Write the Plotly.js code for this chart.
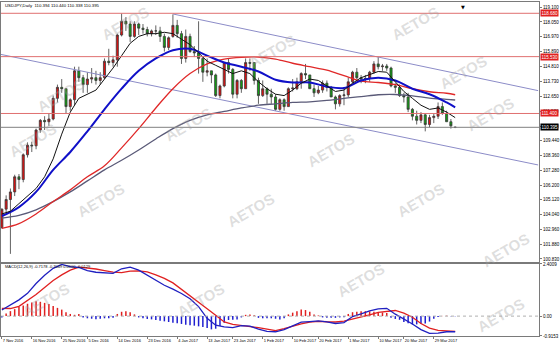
<!DOCTYPE html>
<html><head><meta charset="utf-8">
<script src="https://cdn.plot.ly/plotly-3.0.1.min.js"></script>
<style>html,body{margin:0;padding:0;background:#fff;}#chart{width:560px;height:348px;}</style>
</head><body><div id="chart"></div>
<script>
const dates = ['2016-11-07','2016-11-08','2016-11-09','2016-11-10','2016-11-11','2016-11-14','2016-11-15','2016-11-16','2016-11-17','2016-11-18','2016-11-21','2016-11-22','2016-11-23','2016-11-24','2016-11-25','2016-11-28','2016-11-29','2016-11-30',
'2016-12-01','2016-12-02','2016-12-05','2016-12-06','2016-12-07','2016-12-08','2016-12-09','2016-12-12','2016-12-13','2016-12-14','2016-12-15','2016-12-16','2016-12-19','2016-12-20','2016-12-21','2016-12-22','2016-12-23','2016-12-26','2016-12-27','2016-12-28','2016-12-29','2016-12-30',
'2017-01-03','2017-01-04','2017-01-05','2017-01-06','2017-01-09','2017-01-10','2017-01-11','2017-01-12','2017-01-13','2017-01-16','2017-01-17','2017-01-18','2017-01-19','2017-01-20','2017-01-23','2017-01-24','2017-01-25','2017-01-26','2017-01-27','2017-01-30','2017-01-31',
'2017-02-01','2017-02-02','2017-02-03','2017-02-06','2017-02-07','2017-02-08','2017-02-09','2017-02-10','2017-02-13','2017-02-14','2017-02-15','2017-02-16','2017-02-17','2017-02-20','2017-02-21','2017-02-22','2017-02-23','2017-02-24','2017-02-27','2017-02-28',
'2017-03-01','2017-03-02','2017-03-03','2017-03-06','2017-03-07','2017-03-08','2017-03-09','2017-03-10','2017-03-13','2017-03-14','2017-03-15','2017-03-16','2017-03-17','2017-03-20','2017-03-21','2017-03-22','2017-03-23','2017-03-24','2017-03-27','2017-03-28','2017-03-29','2017-03-30','2017-03-31',
'2017-04-03','2017-04-04','2017-04-05'];

const openP  = [103.10,104.45,105.15,105.70,106.80,106.60,108.40,109.10,109.05,110.20,110.90,110.80,111.00,112.50,113.30,113.20,111.90,112.40,114.50,114.00,113.50,113.90,114.00,113.80,114.00,115.20,115.10,115.30,117.10,118.10,117.90,117.00,117.90,117.60,117.50,117.20,117.40,117.40,117.00,116.20,117.00,117.80,117.20,115.40,117.00,115.90,115.80,115.40,114.40,114.50,114.20,112.70,113.40,115.10,114.60,112.80,113.80,113.20,115.10,115.10,113.80,112.70,113.20,112.80,112.60,111.70,112.40,111.90,113.20,113.20,113.70,114.30,114.20,113.20,112.90,113.10,113.60,113.30,112.60,112.10,112.70,112.75,113.70,114.40,114.00,113.90,113.95,114.40,115.00,114.80,114.85,114.70,113.40,113.30,112.70,112.60,111.70,111.20,110.90,111.30,110.60,111.10,111.20,111.90,111.40,110.80,110.394];
const highP  = [104.50,105.45,105.95,106.95,107.00,108.50,109.30,109.35,110.30,111.00,111.20,111.40,112.70,113.50,113.90,113.20,112.50,114.80,114.80,114.20,114.40,114.70,114.50,114.40,115.40,116.10,115.60,117.20,118.66,118.40,118.10,118.10,118.00,117.90,117.70,117.50,117.80,117.70,117.20,117.00,118.60,118.20,117.40,117.50,117.20,116.30,118.10,115.50,115.40,114.50,114.30,113.50,115.10,115.40,114.70,113.90,113.90,115.40,115.40,115.10,114.00,113.80,113.30,113.20,112.80,112.50,112.50,113.30,113.90,114.00,114.40,115.00,114.20,113.50,113.40,113.80,113.80,113.40,112.70,112.80,113.30,114.00,114.50,114.70,114.20,114.20,114.50,115.20,115.50,115.00,115.00,114.80,113.60,113.50,112.90,112.90,111.80,111.60,111.50,111.40,111.30,111.40,112.20,112.20,111.60,111.00,110.440];
const lowP   = [103.05,104.20,101.20,105.40,105.90,106.40,108.20,108.60,108.80,110.00,110.20,110.50,110.90,112.20,112.90,111.40,111.60,112.00,113.70,112.90,112.90,113.60,113.50,113.50,113.90,114.90,114.80,114.80,117.00,117.40,116.60,116.90,117.10,117.20,117.00,117.00,117.10,116.60,115.90,116.00,116.90,116.90,115.00,115.10,115.80,115.50,114.30,113.70,114.10,113.60,112.60,112.50,113.30,114.30,112.50,112.50,112.90,113.20,114.50,113.50,112.10,112.60,112.10,112.10,111.60,111.60,111.60,111.90,113.00,113.10,113.20,113.90,113.20,112.60,112.80,112.90,113.00,112.60,111.70,111.90,112.00,112.60,113.60,113.90,113.60,113.60,113.70,114.30,114.60,114.50,114.50,113.30,112.90,112.60,112.20,111.50,110.90,110.60,110.70,110.10,110.40,110.70,111.00,111.30,110.80,110.30,110.338];
const closeP = [104.45,105.15,105.70,106.80,106.60,108.40,109.10,109.05,110.20,110.90,110.80,111.00,112.50,113.30,113.20,111.90,112.40,114.50,114.00,113.50,113.90,114.00,113.80,114.00,115.20,115.10,115.30,117.10,118.10,117.90,117.00,117.90,117.60,117.50,117.20,117.40,117.40,117.00,116.20,116.90,117.80,117.20,115.40,117.00,115.90,115.80,115.40,114.40,114.50,114.20,112.70,113.40,115.10,114.60,112.80,113.80,113.20,115.10,115.05,113.80,112.70,113.20,112.80,112.60,111.70,112.40,111.90,113.20,113.25,113.70,114.30,114.20,113.20,112.90,113.10,113.60,113.30,112.60,112.10,112.70,112.75,113.70,114.40,114.00,113.90,113.95,114.40,115.00,114.80,114.85,114.70,113.40,113.30,112.70,112.60,111.70,111.20,110.90,111.30,110.60,111.10,111.20,111.90,111.40,110.80,110.50,110.395];

const ma2Idx = [0,2,4,6,8,10,12,14,16,18,20,22,24,26,28,30,32,34,36,38,40,42,44,46,48,50,52,54,56,58,60,62,64,66,68,70,72,74,76,78,80,82,84,86,88,90,92,94,96,98,100,102,104,106];
const maBlack = [104.1,104.3,104.85,105.4,105.95,106.8,108.1,109.9,111.5,112.5,112.8,113.1,113.9,114.7,115.6,116.5,117.0,117.2,117.2,117.3,117.2,116.8,116.4,115.8,115.2,114.9,114.6,114.3,114.5,114.3,113.7,113.2,112.8,112.7,113.1,113.6,113.9,113.8,113.4,113.0,113.1,113.6,114.0,114.2,114.45,114.4,113.7,113.0,112.5,112.0,111.7,111.8,111.5,111.1];
const ma4Idx = [0,4,8,12,16,20,24,28,32,36,40,44,48,52,56,60,64,68,72,76,80,84,88,92,96,100,104,106];
const maBlue = [103.95,104.6,105.7,107.3,108.6,110.1,111.7,113.2,114.5,115.4,116.0,116.1,115.6,115.1,114.8,114.45,113.85,113.65,113.65,113.35,113.25,113.8,114.0,113.8,113.2,112.8,112.2,111.85];
const maRed  = [103.05,103.4,104.1,105.0,105.85,106.8,107.6,108.9,110.3,111.8,113.2,114.3,115.0,115.35,115.48,115.5,115.35,115.05,114.8,114.55,114.15,113.75,113.65,113.5,113.2,112.98,112.87,112.76];
const maGray = [103.8,104.0,104.4,105.0,105.7,106.5,107.3,108.0,108.75,109.55,110.3,110.9,111.3,111.55,111.8,112.0,112.1,112.2,112.25,112.35,112.5,112.62,112.76,112.78,112.68,112.52,112.43,112.38];

const macdMain   = [0.28,0.5,0.75,1.05,1.5,1.88,2.2,2.38,2.28,2.24,2.1,2.02,2.0,1.97,2.18,2.26,2.12,1.9,1.66,1.42,1.24,1.04,0.8,0.44,-0.1,-0.42,-0.5,-0.53,-0.44,-0.46,-0.6,-0.7,-0.72,-0.62,-0.45,-0.28,-0.25,-0.22,-0.26,-0.34,-0.3,-0.02,0.1,0.24,0.33,0.36,0.09,-0.12,-0.36,-0.62,-0.79,-0.78,-0.72,-0.72];
const macdSignal = [0.36,0.35,0.45,0.72,1.0,1.32,1.64,1.9,2.12,2.26,2.23,2.17,2.1,2.03,2.0,2.07,2.08,2.04,1.9,1.74,1.53,1.24,0.96,0.64,0.34,0.04,-0.27,-0.38,-0.42,-0.46,-0.53,-0.6,-0.67,-0.58,-0.46,-0.36,-0.28,-0.24,-0.26,-0.27,-0.23,-0.14,-0.05,0.06,0.17,0.23,0.26,0.14,-0.05,-0.34,-0.55,-0.66,-0.69,-0.70];
const macdHist = [-0.06,0.12,0.23,0.32,0.42,0.49,0.57,0.63,0.69,0.66,0.61,0.56,0.47,0.38,0.3,0.18,0.1,0.06,0.1,-0.06,-0.1,-0.12,-0.14,-0.12,-0.1,-0.1,-0.08,0.1,0.2,0.23,0.18,0.08,-0.06,-0.1,-0.13,-0.15,-0.18,-0.21,-0.24,-0.27,-0.3,-0.33,-0.36,-0.4,-0.42,-0.44,-0.47,-0.5,-0.55,-0.61,-0.58,-0.45,-0.3,-0.18,-0.17,-0.15,-0.06,0.06,0.08,0.04,-0.08,-0.1,-0.1,-0.1,-0.12,-0.15,-0.1,0.08,0.16,0.23,0.3,0.28,0.2,0.08,0.03,-0.06,-0.08,-0.08,-0.08,-0.06,-0.05,0.1,0.18,0.2,0.22,0.23,0.22,0.2,0.19,0.17,0.14,-0.08,-0.13,-0.17,-0.27,-0.33,-0.38,-0.38,-0.36,-0.34,-0.25,-0.12,-0.04,0.01,0.02,-0.01,-0.01];

const priceTicks = [119.100,118.050,116.970,115.890,114.810,113.730,112.650,111.570,110.490,109.440,108.360,107.280,106.200,105.120,104.040,102.960,101.880,100.830];
const macdTicks = [2.4009,0,-0.9153];
const macdTickText = ['2.4009','0.00','-0.9153'];
const dateTickDates = ['2016-11-07','2016-11-16','2016-11-25','2016-12-05','2016-12-14','2016-12-23','2017-01-04','2017-01-13','2017-01-23','2017-02-01','2017-02-10','2017-02-20','2017-03-01','2017-03-10','2017-03-20','2017-03-29'];
const dateTickText = ['7 Nov 2016','16 Nov 2016','25 Nov 2016','5 Dec 2016','14 Dec 2016','23 Dec 2016','4 Jan 2017','13 Jan 2017','23 Jan 2017','1 Feb 2017','10 Feb 2017','20 Feb 2017','1 Mar 2017','10 Mar 2017','20 Mar 2017','29 Mar 2017'];
const levelPrices = [118.680,115.530,111.400];
const levelText = ['118.680','115.530','111.400'];
const currentPrice = 110.395;
const channelUpperX = [40,125.4];
const channelUpperY = [118.63,113.06];
const channelLowerX = [-0.2,125.4];
const channelLowerY = [115.69,107.66];

const FONT = 'Liberation Sans, Arial, sans-serif';
const xr = [-0.2,125.6];
const idx = dates.map((d,i)=>i);
const sm = 4.5;

const traces = [
 {type:'scatter',mode:'lines',x:channelUpperX,y:channelUpperY,xaxis:'x',yaxis:'y',line:{color:'#8c8cc8',width:1}},
 {type:'scatter',mode:'lines',x:channelLowerX,y:channelLowerY,xaxis:'x',yaxis:'y',line:{color:'#8c8cc8',width:1}},
 {type:'scatter',mode:'lines',x:ma4Idx,y:maGray,line:{color:'#5a5a78',width:1.3,shape:'spline'}},
 {type:'scatter',mode:'lines',x:ma4Idx,y:maRed,line:{color:'#e02828',width:1.3,shape:'spline'}},
 {type:'scatter',mode:'lines',x:ma4Idx,y:maBlue,line:{color:'#1010c8',width:2,shape:'spline'}},
 {type:'scatter',mode:'lines',x:ma2Idx,y:maBlack,line:{color:'#111',width:1}},
 {type:'candlestick',x:idx,open:openP,high:highP,low:lowP,close:closeP,xaxis:'x',yaxis:'y',whiskerwidth:0,
  increasing:{line:{color:'#3a3a3a',width:0.8},fillcolor:'#e01010'},
  decreasing:{line:{color:'#3a3a3a',width:0.8},fillcolor:'#10a010'}},
 {type:'bar',x:idx,y:macdHist,xaxis:'x2',yaxis:'y2',width:0.35,marker:{color:macdHist.map(v=>v>=0?'#e02020':'#2020d0'),line:{width:0}}},
 {type:'scatter',mode:'lines',x:ma2Idx,y:macdSignal,xaxis:'x2',yaxis:'y2',line:{color:'#e02020',width:1.3}},
 {type:'scatter',mode:'lines',x:ma2Idx,y:macdMain,xaxis:'x2',yaxis:'y2',line:{color:'#2020c0',width:1.3}}
];

const shapes = [];
levelPrices.forEach(p=>shapes.push({type:'line',xref:'paper',x0:0,x1:1,yref:'y',y0:p,y1:p,line:{color:'#e07070',width:1}}));
shapes.push({type:'line',xref:'paper',x0:0,x1:1,yref:'y',y0:currentPrice,y1:currentPrice,line:{color:'#808080',width:1}});
shapes.push({type:'line',xref:'paper',x0:0,x1:1,yref:'y2',y0:0,y1:0,line:{color:'#b0b0b0',width:1,dash:'dot'}});

const annotations = [];
annotations.push({xref:'paper',yref:'paper',x:0.004,y:0.9895,xanchor:'left',yanchor:'middle',showarrow:false,
  text:'USDJPY,Daily  110.394 110.440 110.338 110.395',font:{family:FONT,size:4.3,color:'#000'}});
annotations.push({xref:'paper',yref:'paper',x:0.004,y:0.208,xanchor:'left',yanchor:'middle',showarrow:false,
  text:'MACD(12,26,9) -0.7178 -0.7049 0.0000 -0.0129',font:{family:FONT,size:4.0,color:'#000'}});
levelPrices.forEach((p,k)=>annotations.push({xref:'paper',yref:'y',x:1.002,y:p,xanchor:'left',yanchor:'middle',showarrow:false,
  text:levelText[k],bgcolor:'#e02020',borderpad:0.5,font:{family:FONT,size:sm,color:'#fff'}}));
annotations.push({xref:'paper',yref:'y',x:1.002,y:currentPrice,xanchor:'left',yanchor:'middle',showarrow:false,
  text:currentPrice.toFixed(3),bgcolor:'#000',borderpad:0.5,font:{family:FONT,size:sm,color:'#fff'}});
annotations.push({xref:'paper',yref:'paper',x:(463-1)/538,y:1.0,xanchor:'center',yanchor:'top',showarrow:false,
  text:'▼',font:{family:'DejaVu Sans',size:5,color:'#000'}});
const wm = [[125,24],[272,52],[415,24],[463,73],[188,125],[60,95],[32,140],[330,150],[490,115],[100,200],[250,210],[420,200],[505,250],[45,300],[200,300],[360,280],[500,315]];
wm.forEach(([px,py])=>annotations.push({xref:'paper',yref:'paper',x:(px-1)/538,y:(336-py)/334,xanchor:'center',yanchor:'middle',showarrow:false,
  text:'<b>AETOS</b>',textangle:-30,font:{family:FONT,size:15,color:'rgba(160,160,160,0.35)'}}));

const axLine = '#7a7a7a';
const layout = {
  width:560,height:348,margin:{l:1,r:21,t:2,b:12,pad:0},
  paper_bgcolor:'#fff',plot_bgcolor:'#fff',showlegend:false,
  font:{family:FONT,size:sm,color:'#000'},
  xaxis:{domain:[0,1],anchor:'y',range:xr,showticklabels:false,showline:true,mirror:true,linecolor:axLine,linewidth:1,showgrid:false,zeroline:false,ticks:'',rangeslider:{visible:false},fixedrange:true},
  xaxis2:{domain:[0,1],anchor:'y2',range:xr,tickmode:'array',tickvals:dateTickDates.map(d=>dates.indexOf(d)),ticktext:dateTickText,tickangle:0,
    ticks:'outside',ticklen:2,tickcolor:axLine,ticklabelposition:'outside right',tickfont:{family:FONT,size:4.0,color:'#000'},
    showline:true,mirror:true,linecolor:axLine,linewidth:1,showgrid:false,zeroline:false},
  yaxis:{domain:[0.2216,1],anchor:'x',side:'right',range:[100.61,119.50],tickmode:'array',tickvals:priceTicks,ticktext:priceTicks.map(v=>v.toFixed(3)),
    ticks:'outside',ticklen:2,tickcolor:axLine,tickfont:{family:FONT,size:sm,color:'#000'},showline:true,mirror:true,linecolor:axLine,linewidth:1,showgrid:false,zeroline:false},
  yaxis2:{domain:[0,0.2156],anchor:'x2',side:'right',range:[-0.9153,2.4009],tickmode:'array',tickvals:macdTicks,ticktext:macdTickText,
    ticks:'outside',ticklen:2,tickcolor:axLine,tickfont:{family:FONT,size:sm,color:'#000'},showline:true,mirror:true,linecolor:axLine,linewidth:1,showgrid:false,zeroline:false},
  shapes:shapes,annotations:annotations
};
Plotly.newPlot('chart',traces,layout,{staticPlot:true,displayModeBar:false});
</script></body></html>
